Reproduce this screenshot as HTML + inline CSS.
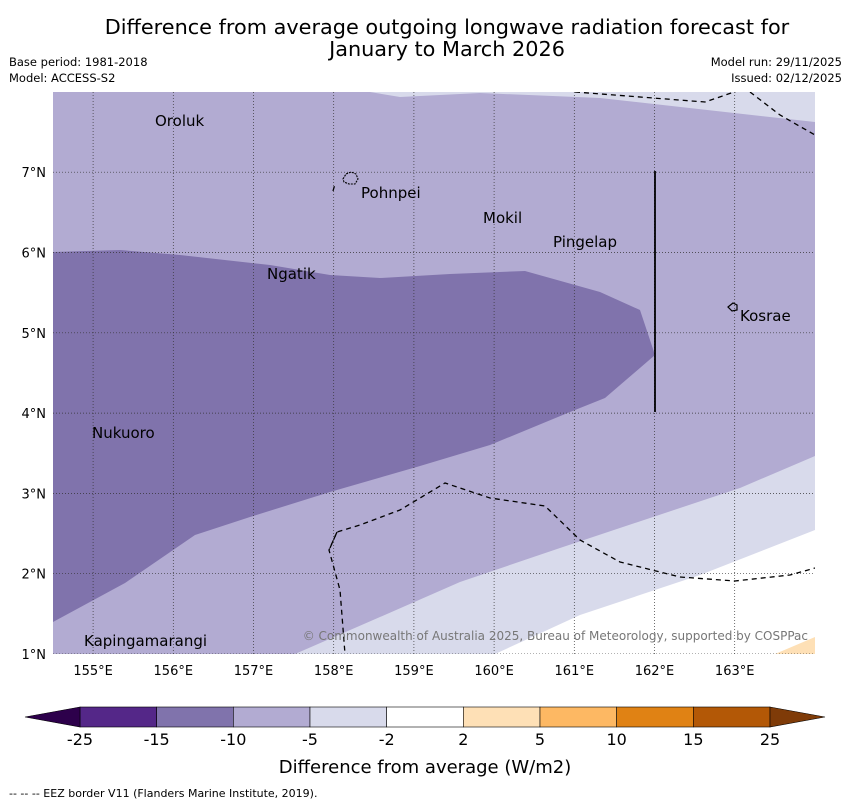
<!DOCTYPE html>
<html><head><meta charset="utf-8"><style>
body{margin:0;background:#fff;font-family:"Liberation Sans",sans-serif}
svg text{font-family:"DejaVu Sans","Liberation Sans",sans-serif}
</style></head><body>
<svg id="c" width="850" height="804" xmlns="http://www.w3.org/2000/svg">
<text x="447" y="34" font-size="20.8" text-anchor="middle">Difference from average outgoing longwave radiation forecast for</text>
<text x="447" y="56" font-size="20.8" text-anchor="middle">January to March 2026</text>
<text x="9" y="66" font-size="11.5">Base period: 1981-2018</text>
<text x="9" y="82" font-size="11.5">Model: ACCESS-S2</text>
<text x="842" y="66" font-size="11.5" text-anchor="end">Model run: 29/11/2025</text>
<text x="842" y="82" font-size="11.5" text-anchor="end">Issued: 02/12/2025</text>
<defs><clipPath id="mc"><rect x="53" y="92" width="762" height="562"/></clipPath></defs>
<g clip-path="url(#mc)">
<rect x="53" y="92" width="762" height="562" fill="#b2abd2"/>
<polygon points="370,92 400,97 480,93 600,98 815,122 815,92" fill="#d8daeb"/>
<polygon points="53,252 120,250 180,255 270,265 330,275 380,278 450,274 525,271 600,292 640,310 655,355 605,398 570,412 490,445 420,466 330,492 250,517 195,535 125,583 53,622" fill="#8073ac"/>
<polygon points="295,654 380,617 460,582 560,548 740,488 815,456 815,654" fill="#d8daeb"/>
<polygon points="495,654 580,615 700,575 815,530 815,654" fill="#ffffff"/>
<polygon points="775,654 815,637 815,654" fill="#fee0b6"/>
<g id="grid"></g>
<g fill="none" stroke="#000" stroke-width="1.3" stroke-dasharray="5,4">
<polyline points="330,548 337,532 360,525 400,510 445,483 490,498 545,506 580,540 620,562 680,577 735,581 790,575 815,568"/>
<polyline points="337,532 329,550 340,590 345,654"/>
<polyline points="575,92 705,102 740,90"/>
<polyline points="750,92 780,115 815,135"/>
<polyline points="333,191 335,184"/>
</g>
<line x1="655" y1="171" x2="655" y2="412" stroke="#000" stroke-width="1.8"/>
<path d="M343,179 l3,-5 5,-2 5,2 2,5 -3,5 -6,0 -5,-2z" fill="none" stroke="#000" stroke-width="1.1" stroke-dasharray="2,1"/>
<path d="M728,307 l5,-4 4,2 0,5 -5,1z" fill="none" stroke="#000" stroke-width="1.2"/>
<g font-size="15">
<text x="155" y="126">Oroluk</text>
<text x="361" y="198">Pohnpei</text>
<text x="483" y="223">Mokil</text>
<text x="553" y="247">Pingelap</text>
<text x="267" y="279">Ngatik</text>
<text x="740" y="321">Kosrae</text>
<text x="92" y="438">Nukuoro</text>
<text x="84" y="646">Kapingamarangi</text>
</g>
<text x="808" y="640" font-size="12" fill="#777" text-anchor="end">© Commonwealth of Australia 2025, Bureau of Meteorology, supported by COSPPac</text>
</g>
<g id="axes" font-size="13"></g>
<g id="cbar"></g>
<text x="425" y="773" font-size="18" text-anchor="middle">Difference from average (W/m2)</text>
<text x="9" y="797" font-size="11">--  --  -- EEZ border V11 (Flanders Marine Institute, 2019).</text>
</svg>
<script>
const lonTicks=[155,156,157,158,159,160,161,162,163];
const latTicks=[1,2,3,4,5,6,7];
const levelLabels=["-25","-15","-10","-5","-2","2","5","10","15","25"];
const levelColors=["#542788","#8073ac","#b2abd2","#d8daeb","#ffffff","#fee0b6","#fdb863","#e08214","#b35806"];
const ns="http://www.w3.org/2000/svg";
const x=lon=>53+(lon-154.5)*80.2;
const y=lat=>654-(lat-1)*80.3;
function mk(t,a,p){const e=document.createElementNS(ns,t);for(const k in a)e.setAttribute(k,a[k]);p.appendChild(e);return e;}
const g=document.getElementById('grid'),ax=document.getElementById('axes'),cb=document.getElementById('cbar');
lonTicks.forEach(l=>{
 const ln=mk('line',{x1:x(l),x2:x(l),y1:92,y2:654,stroke:'#333','stroke-width':0.7,'stroke-dasharray':'1,2'},g);
 
 
 const t=mk('text',{x:x(l),y:675,'text-anchor':'middle'},ax);t.textContent=l+'°E';
 
 
});
latTicks.forEach(l=>{
 const ln=mk('line',{x1:53,x2:815,y1:y(l),y2:y(l),stroke:'#333','stroke-width':0.7,'stroke-dasharray':'1,2'},g);
 
 
 const t=mk('text',{x:46,y:y(l)+5,'text-anchor':'end'},ax);t.textContent=l+'°N';
 
 
});
const cx0=80,cw=(770-80)/levelColors.length,cy=707,ch=20;
levelColors.forEach((c,i)=>{
 const r=mk('rect',{x:cx0+i*cw,y:cy,width:cw,height:ch,fill:c,stroke:'#000','stroke-width':0.6},cb);
 
 
});
const lt=mk('polygon',{points:`${cx0},${cy} 25,${cy+ch/2} ${cx0},${cy+ch}`,fill:'#2d004b',stroke:'#000','stroke-width':0.6},cb);


const rt=mk('polygon',{points:`770,${cy} 825,${cy+ch/2} 770,${cy+ch}`,fill:'#7f3b08',stroke:'#000','stroke-width':0.6},cb);


levelLabels.forEach((s,i)=>{
 const t=mk('text',{x:cx0+i*cw,y:745,'text-anchor':'middle','font-size':16},cb);t.textContent=s;
 
 
});
</script>
</body></html>
